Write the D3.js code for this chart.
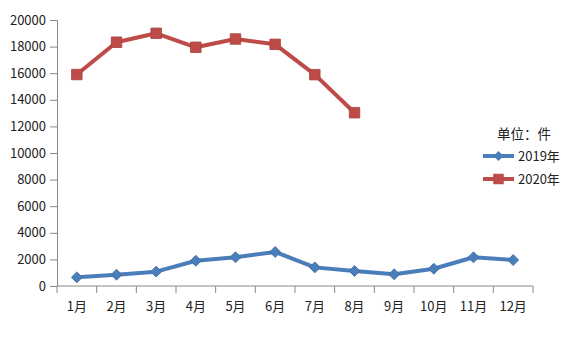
<!DOCTYPE html>
<html>
<head>
<meta charset="utf-8">
<script src="https://cdn.jsdelivr.net/npm/d3@7"></script>
<style>
  body { margin: 0; background: #fff; }
  text { font-family: "Noto Sans CJK SC", "Noto Sans", sans-serif; fill: #222; }
</style>
</head>
<body>
<div id="chart"></div>
<script>
// Data
const months = ['1月', '2月', '3月', '4月', '5月', '6月', '7月', '8月', '9月', '10月', '11月', '12月'];
const values2019 = [650, 850, 1080, 1900, 2160, 2560, 1400, 1130, 880, 1300, 2160, 1950];
const values2020 = [15900, 18330, 19000, 17950, 18570, 18170, 15890, 13030];
const yTicks = [0, 2000, 4000, 6000, 8000, 10000, 12000, 14000, 16000, 18000, 20000];
const unitLabel = '单位：件';

const width = 568, height = 337;
const margin = { top: 20, right: 35, bottom: 51, left: 57 };
const innerW = width - margin.left - margin.right;
const innerH = height - margin.top - margin.bottom;

const svg = d3.select('#chart').append('svg')
    .attr('width', width)
    .attr('height', height);

const g = svg.append('g')
    .attr('transform', `translate(${margin.left},${margin.top})`);

const x = d3.scaleBand().domain(months).range([0, innerW]);
const y = d3.scaleLinear().domain([0, 20000]).range([innerH, 0]);

// y axis
const yAxis = g.append('g')
    .call(d3.axisLeft(y).tickValues(yTicks).tickSize(7).tickPadding(4).tickFormat(d3.format('d')));
yAxis.select('.domain').attr('stroke', '#888');
yAxis.selectAll('.tick line').attr('stroke', '#888');
yAxis.selectAll('.tick text').style('font-size', '13px').attr('fill', '#222');

// x axis with ticks at category boundaries
const xAxis = g.append('g').attr('transform', `translate(0,${innerH})`);
xAxis.append('line')
    .attr('x1', 0).attr('x2', innerW)
    .attr('stroke', '#888');
xAxis.selectAll('.bound')
    .data(months.concat(['end']))
    .enter().append('line')
    .attr('x1', (d, i) => i * x.bandwidth())
    .attr('x2', (d, i) => i * x.bandwidth())
    .attr('y1', 0).attr('y2', 7)
    .attr('stroke', '#888');
xAxis.selectAll('.lbl')
    .data(months)
    .enter().append('text')
    .attr('x', d => x(d) + x.bandwidth() / 2)
    .attr('y', 25)
    .attr('text-anchor', 'middle')
    .style('font-size', '13px')
    .text(d => d);

const cx = (d, i) => x(months[i]) + x.bandwidth() / 2;
const line = d3.line().x(cx).y(d => y(d));

const series = [
    { name: '2019年', values: values2019, color: '#4a7ebb', marker: 'diamond' },
    { name: '2020年', values: values2020, color: '#be4b48', marker: 'square' }
];

series.forEach(s => {
    g.append('path')
        .datum(s.values)
        .attr('fill', 'none')
        .attr('stroke', s.color)
        .attr('stroke-width', 4)
        .attr('stroke-linejoin', 'round')
        .attr('d', line);

    const sym = s.marker === 'diamond'
        ? d3.symbol().type(d3.symbolSquare).size(60)
        : d3.symbol().type(d3.symbolSquare).size(110);

    g.selectAll(null)
        .data(s.values)
        .enter().append('path')
        .attr('d', sym)
        .attr('transform', (d, i) => `translate(${cx(d, i)},${y(d)})` + (s.marker === 'diamond' ? ' rotate(45)' : ''))
        .attr('fill', s.color)
        .attr('stroke', d3.color(s.color).darker(0.4))
        .attr('stroke-width', 0.8);
});

// legend
const legend = svg.append('g').attr('transform', 'translate(483,0)');
legend.append('text')
    .attr('x', 14).attr('y', 139)
    .style('font-size', '13.5px')
    .text(unitLabel);

series.forEach((s, i) => {
    const row = legend.append('g').attr('transform', `translate(0,${156 + i * 23})`);
    row.append('line')
        .attr('x1', 0).attr('x2', 31)
        .attr('stroke', s.color)
        .attr('stroke-width', 4);
    const sym = s.marker === 'diamond'
        ? d3.symbol().type(d3.symbolSquare).size(50)
        : d3.symbol().type(d3.symbolSquare).size(110);
    row.append('path')
        .attr('d', sym)
        .attr('transform', 'translate(15.5,0)' + (s.marker === 'diamond' ? ' rotate(45)' : ''))
        .attr('fill', s.color);
    row.append('text')
        .attr('x', 35).attr('y', 4.5)
        .style('font-size', '13px')
        .text(s.name);
});
</script>
</body>
</html>
